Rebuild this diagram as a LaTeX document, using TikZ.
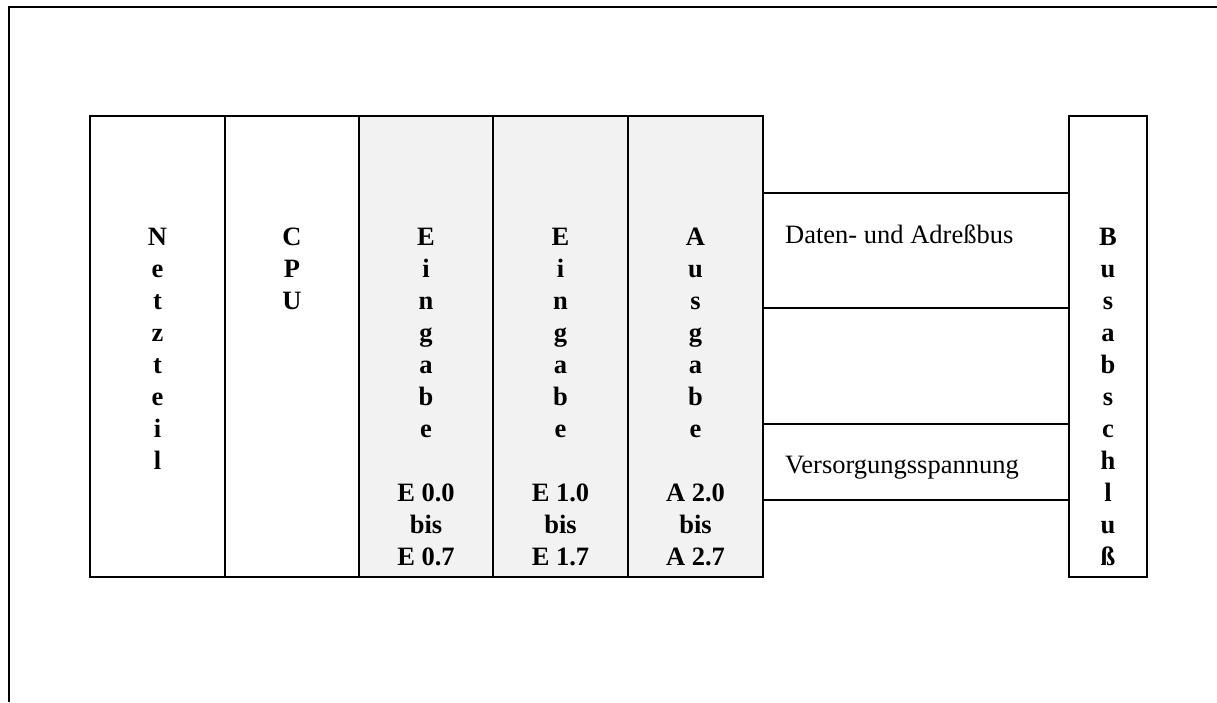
\documentclass[tikz,border=0pt]{standalone}
\usepackage{fontspec}
\setmainfont{Liberation Serif}
\definecolor{modgray}{HTML}{F2F2F2}
\tikzset{
  modbox/.style={draw=black, line width=1.5pt, rectangle, inner sep=0pt, minimum height=461pt},
  colfont/.style={font=\fontsize{26.5}{32}\selectfont\bfseries, align=center, anchor=base, inner sep=0pt},
  busfont/.style={font=\fontsize{26.5}{32}\selectfont, anchor=base west, inner sep=0pt},
  busline/.style={line width=1.5pt},
  frameline/.style={line width=2pt}
}
\begin{document}
\begin{tikzpicture}[x=1pt,y=-1pt]
\useasboundingbox (0,0) rectangle (1217,702);
% outer frame
\coordinate (fr1) at (1217,7);
\coordinate (fr2) at (9,7);
\coordinate (fr3) at (9,702);
\draw[frameline] (fr1) -- (fr2) -- (fr3);
% modules
\node[modbox, minimum width=135pt] (nt) at (157.5,346.5) {};
\node[modbox, minimum width=134pt] (cpu) at (292,346.5) {};
\node[modbox, minimum width=134pt, fill=modgray] (e0) at (426,346.5) {};
\node[modbox, minimum width=135pt, fill=modgray] (e1) at (560.5,346.5) {};
\node[modbox, minimum width=135pt, fill=modgray] (aus) at (695.5,346.5) {};
\node[modbox, minimum width=78pt] (bab) at (1108,346.5) {};
% column texts (anchor = baseline of last line)
\node[colfont] (tnt) at (157.5,469) {N\\e\\t\\z\\t\\e\\i\\l};
\node[colfont] (tcpu) at (292,309) {C\\P\\U};
\node[colfont] (te0) at (426,565) {E\\i\\n\\g\\a\\b\\e\\[32pt]E 0.0\\bis\\E 0.7};
\node[colfont] (te1) at (560.5,565) {E\\i\\n\\g\\a\\b\\e\\[32pt]E 1.0\\bis\\E 1.7};
\node[colfont] (taus) at (695.5,565) {A\\u\\s\\g\\a\\b\\e\\[32pt]A 2.0\\bis\\A 2.7};
\node[colfont] (tbab) at (1108,565) {B\\u\\s\\a\\b\\s\\c\\h\\l\\u\\ß};
% bus lines
\coordinate (y1) at (0,193);
\coordinate (y2) at (0,308);
\coordinate (y3) at (0,424);
\coordinate (y4) at (0,500);
\draw[busline] (aus.east |- y1) -- (bab.west |- y1);
\draw[busline] (aus.east |- y2) -- (bab.west |- y2);
\draw[busline] (aus.east |- y3) -- (bab.west |- y3);
\draw[busline] (aus.east |- y4) -- (bab.west |- y4);
\node[busfont] (db) at (785,243) {Daten- und Adreßbus};
\node[busfont] (vs) at (785,473) {Versorgungsspannung};
\end{tikzpicture}
\end{document}
